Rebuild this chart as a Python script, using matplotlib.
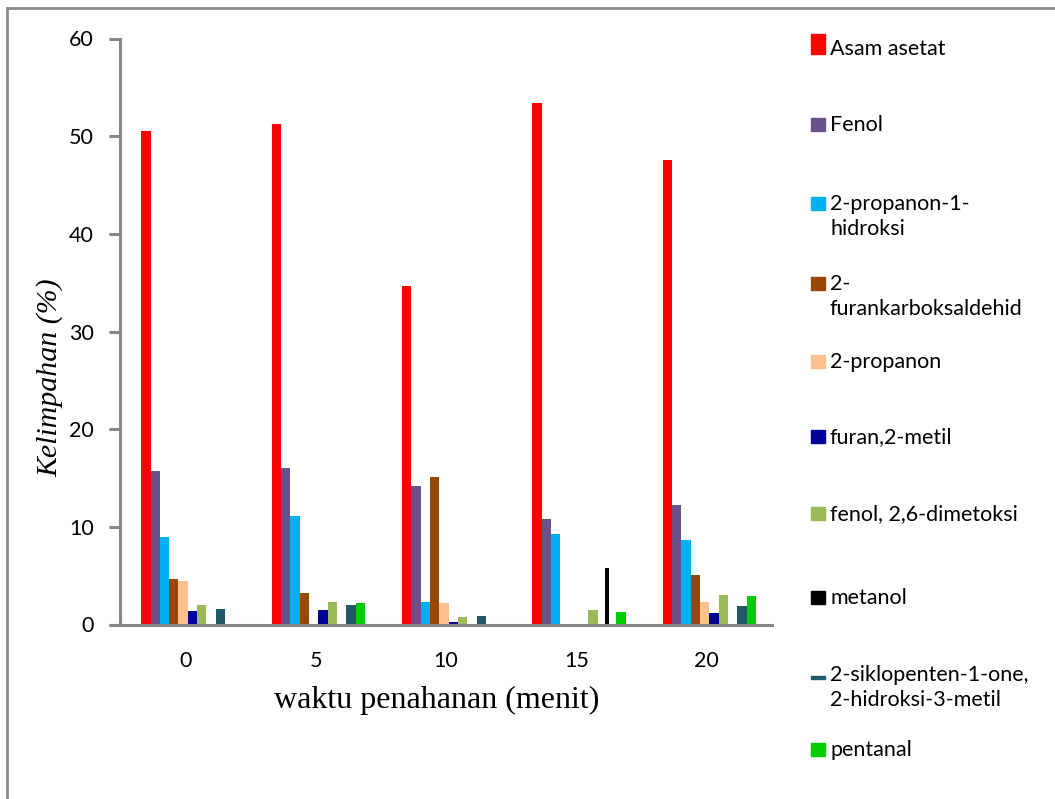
import matplotlib
matplotlib.use("Agg")
import matplotlib.pyplot as plt
from matplotlib.patches import Rectangle
from matplotlib.lines import Line2D
import numpy as np

categories = ["0", "5", "10", "15", "20"]
series_names = [
    "Asam asetat",
    "Fenol",
    "2-propanon-1-\nhidroksi",
    "2-\nfurankarboksaldehid",
    "2-propanon",
    "furan,2-metil",
    "fenol, 2,6-dimetoksi",
    "metanol",
    "2-siklopenten-1-one,\n2-hidroksi-3-metil",
    "pentanal",
]
colors = ["#FF0000", "#6A5189", "#00B0F0", "#974706", "#FAC090",
          "#000099", "#9BBB59", "#000000", "#215968", "#00CC00"]

asam_asetat = [50.5, 51.2, 34.7, 53.4, 47.6]
fenol = [15.7, 16.0, 14.2, 10.8, 12.2]
propanon_hidroksi = [9.0, 11.1, 2.3, 9.3, 8.7]
furankarboksaldehid = [4.7, 3.2, 15.1, 0.0, 5.1]
propanon = [4.5, 0.0, 2.25, 0.0, 2.3]
furan_metil = [1.35, 1.5, 0.3, 0.0, 1.2]
fenol_dimetoksi = [2.0, 2.3, 0.8, 1.5, 3.05]
metanol = [0.0, 0.0, 0.0, 5.8, 0.0]
siklopentenone = [1.6, 2.0, 0.85, 0.0, 1.85]
pentanal = [0.0, 2.25, 0.0, 1.25, 2.9]

series = [asam_asetat, fenol, propanon_hidroksi, furankarboksaldehid, propanon,
          furan_metil, fenol_dimetoksi, metanol, siklopentenone, pentanal]

W, H = 1055, 799
fig = plt.figure(figsize=(W / 100, H / 100), dpi=100)
fig.patch.set_facecolor("white")

def fx(px):
    return px / W

def fy(py):
    return 1 - py / H

ax = fig.add_axes([fx(120), fy(624.5), fx(772) - fx(120), fy(38.5) - fy(624.5)])
x = np.arange(len(categories))
w = 0.0715
shift = 0.02
for j, (vals, c) in enumerate(zip(series, colors)):
    if series_names[j] == "metanol":
        ax.bar(x + shift + 3.0 * w, vals, width=0.35 * w, color=c, linewidth=0)
    else:
        ax.bar(x + shift + (j - 4.5) * w, vals, width=w, color=c, linewidth=0)

ax.set_xlim(-0.5, len(categories) - 0.5)
ax.set_ylim(0, 60)
ax.set_yticks([0, 10, 20, 30, 40, 50, 60])
ax.set_xticks(x)
ax.set_xticklabels(categories)
gray = "#868686"
for s in ["top", "right"]:
    ax.spines[s].set_visible(False)
ax.spines["left"].set_color(gray)
ax.spines["bottom"].set_color(gray)
ax.spines["left"].set_linewidth(2.2)
ax.spines["bottom"].set_linewidth(2.2)
ax.tick_params(axis="y", colors=gray, length=8, width=2.2, pad=11, labelcolor="black",
               labelsize=15.5)
ax.tick_params(axis="x", length=0, pad=19, labelcolor="black", labelsize=15.5)
for lab in ax.get_xticklabels() + ax.get_yticklabels():
    lab.set_fontfamily("Lato")
# extend x-axis line to the left like the reference
ax.plot([-0.5 - 11 / 130.4, -0.5], [0, 0], color=gray, lw=2.2, clip_on=False,
        solid_capstyle="butt")

fig.text(fx(437), fy(700), "waktu penahanan (menit)", family="Liberation Serif",
         fontsize=23, ha="center", va="center")
fig.text(fx(50), fy(378), "Kelimpahan (%)", family="Liberation Serif", style="italic",
         fontsize=21.5, ha="center", va="center", rotation=90)

# page frame
fig.add_artist(Line2D([fx(7), fx(7)], [fy(8), 0], color="#8c8c8c", lw=2,
                      transform=fig.transFigure))
fig.add_artist(Line2D([fx(7), 1], [fy(8), fy(8)], color="#8c8c8c", lw=2,
                      transform=fig.transFigure))

# legend
leg_y = [48, 124, 203, 283, 361, 436, 513, 597, 674, 749]
for j, (name, c) in enumerate(zip(series_names, colors)):
    yc = leg_y[j]
    if j == 0:
        rect = Rectangle((fx(811), fy(yc + 6)), fx(14), 20 / H, color=c,
                         transform=fig.transFigure)
    elif name.startswith("2-siklopenten"):
        rect = Rectangle((fx(811), fy(yc + 5)), fx(14), 3 / H, color=c,
                         transform=fig.transFigure)
    else:
        rect = Rectangle((fx(811), fy(yc + 6.5)), fx(14), 13 / H, color=c,
                         transform=fig.transFigure)
    fig.add_artist(rect)
    fig.text(fx(830), fy(yc - 9), name, family="Lato", fontsize=15.5, ha="left",
             va="top", linespacing=1.3)

fig.savefig("out.png", dpi=100, facecolor="white")
